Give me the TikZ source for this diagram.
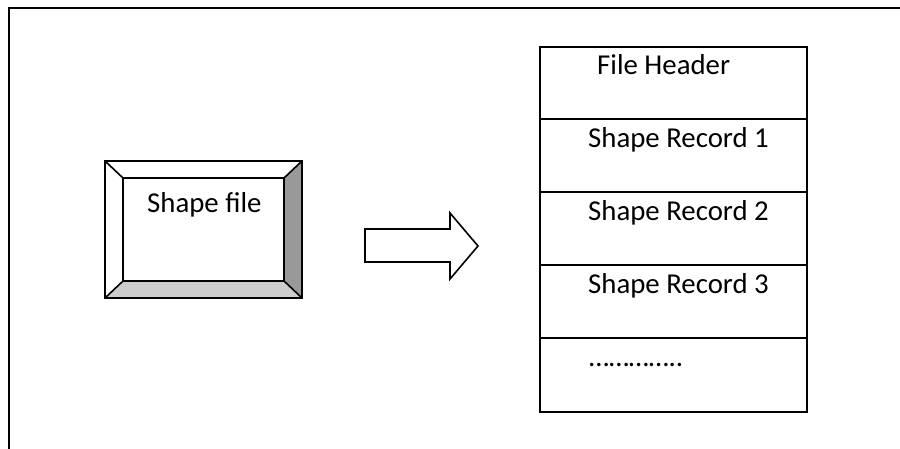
\documentclass[tikz,border=0pt]{standalone}
\usepackage{fontspec}
\setmainfont{Carlito}
\begin{document}
\begin{tikzpicture}[x=1pt,y=-1pt,line join=miter,
  frameline/.style={line width=2pt},
  edge/.style={line width=1.6pt},
  lbl/.style={anchor=base west,inner sep=0pt,font=\fontsize{28.8}{34}\selectfont}]
\useasboundingbox (0,0) rectangle (900,449);

% page frame (top and left rules)
\draw[frameline] (9,449) -- (9,8) -- (900,8);

% bevelled button
\coordinate (o1) at (105,161);
\coordinate (o2) at (302,161);
\coordinate (o3) at (302,298);
\coordinate (o4) at (105,298);
\coordinate (i1) at (123,178);
\coordinate (i2) at (284,178);
\coordinate (i3) at (284,281);
\coordinate (i4) at (123,281);
\fill[white] (o1) -- (o2) -- (i2) -- (i1) -- cycle;
\fill[white] (o1) -- (i1) -- (i4) -- (o4) -- cycle;
\fill[black!40] (o2) -- (o3) -- (i3) -- (i2) -- cycle;
\fill[black!20] (o4) -- (i4) -- (i3) -- (o3) -- cycle;
\draw[edge] (o1) -- (o2) -- (o3) -- (o4) -- cycle;
\draw[edge] (i1) -- (i2) -- (i3) -- (i4) -- cycle;
\draw[edge] (o1) -- (i1) (o2) -- (i2) (o3) -- (i3) (o4) -- (i4);
\node[lbl] (sf) at (147,213) {Shape file};

% block arrow
\draw[edge] (365,229) -- (450,229) -- (450,213) -- (478,246) -- (450,279)
  -- (450,262) -- (365,262) -- cycle;

% record table
\draw[edge] (540,47) rectangle (807,412);
\foreach \yy in {119,192,265,338}
  \draw[edge] (540,\yy) -- (807,\yy);
\node[lbl] (hdr) at (597,75) {File Header};
\node[lbl] (r1) at (588,148) {Shape Record 1};
\node[lbl] (r2) at (588,221) {Shape Record 2};
\node[lbl] (r3) at (588,294) {Shape Record 3};
\node[lbl] (rn) at (589,366) {…………..};
\end{tikzpicture}
\end{document}
